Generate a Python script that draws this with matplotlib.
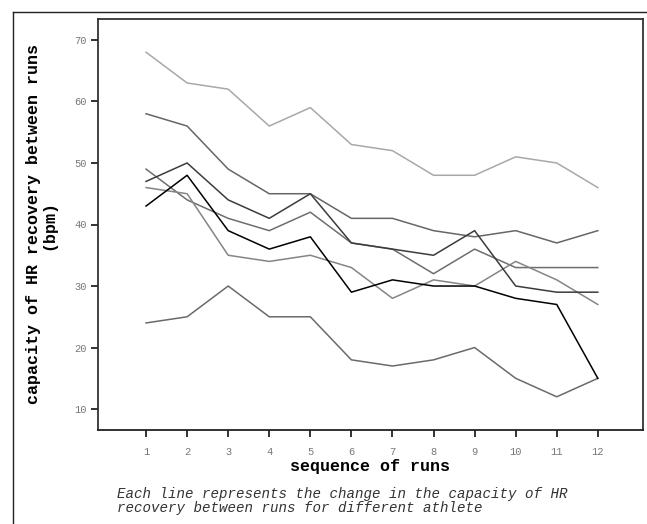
import matplotlib.pyplot as plt
from matplotlib.lines import Line2D

# HR recovery capacity (bpm) for each athlete over 12 runs
runs = list(range(1, 13))
athlete_a = [68, 63, 62, 56, 59, 53, 52, 48, 48, 51, 50, 46]
athlete_b = [58, 56, 49, 45, 45, 41, 41, 39, 38, 39, 37, 39]
athlete_c = [47, 50, 44, 41, 45, 37, 36, 35, 39, 30, 29, 29]
athlete_d = [43, 48, 39, 36, 38, 29, 31, 30, 30, 28, 27, 15]
athlete_e = [49, 44, 41, 39, 42, 37, 36, 32, 36, 33, 33, 33]
athlete_f = [46, 45, 35, 34, 35, 33, 28, 31, 30, 34, 31, 27]
athlete_g = [24, 25, 30, 25, 25, 18, 17, 18, 20, 15, 12, 15]

series = [
    (athlete_a, '#a8a8a8'),
    (athlete_b, '#666666'),
    (athlete_e, '#6e6e6e'),
    (athlete_f, '#858585'),
    (athlete_g, '#6a6a6a'),
    (athlete_c, '#3c3c3c'),
    (athlete_d, '#000000'),
]

mono = 'Liberation Mono'

fig = plt.figure(figsize=(6.47, 5.24), dpi=100)
ax = fig.add_axes([98 / 647, 94 / 524, 545 / 647, 411 / 524])

for vals, col in series:
    ax.plot(runs, vals, color=col, linewidth=1.1)

ax.set_xlim(-0.17, 13.1)
ax.set_ylim(6.6, 73.4)
ax.set_xticks(runs)
ax.set_yticks([10, 20, 30, 40, 50, 60, 70])

for side in ['top', 'right', 'bottom', 'left']:
    ax.spines[side].set_color('#333333')
    ax.spines[side].set_linewidth(1.3)
ax.spines['bottom'].set_color('#222222')

ax.tick_params(axis='both', direction='out', length=5, width=1.3, color='#222222',
               labelsize=7.5, labelcolor='#777777', pad=3)
ax.tick_params(axis='x', pad=7)
for lab in ax.get_xticklabels() + ax.get_yticklabels():
    lab.set_family(mono)

ax.set_xlabel('sequence of runs', family=mono, weight='bold', fontsize=12, labelpad=2)
ax.set_ylabel('capacity of HR recovery between runs\n(bpm)', family=mono,
              weight='bold', fontsize=12, linespacing=1.0, labelpad=13)

fig.text(117 / 647, 1 - 501 / 524,
         'Each line represents the change in the capacity of HR\n'
         'recovery between runs for different athlete',
         family=mono, style='italic', fontsize=10.2, color='#333333',
         va='center', ha='left', linespacing=1.0)

# outer frame around the whole chart
fig.add_artist(Line2D([13 / 647, 13 / 647], [0, 1 - 12 / 524], color='#222222',
                      linewidth=1.0, transform=fig.transFigure))
fig.add_artist(Line2D([13 / 647, 1], [1 - 12 / 524, 1 - 12 / 524], color='#222222',
                      linewidth=1.0, transform=fig.transFigure))

fig.savefig('out.png', dpi=100)
